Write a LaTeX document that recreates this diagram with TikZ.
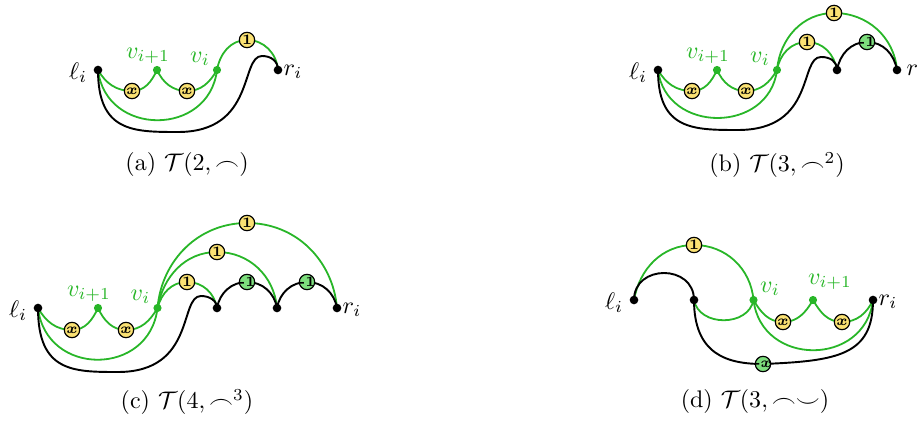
\documentclass[tikz,border=0pt]{standalone}
\usepackage{bm}
\usetikzlibrary{backgrounds}
\definecolor{lgreen}{RGB}{40,182,40}
\definecolor{byellow}{RGB}{250,225,115}
\definecolor{bgreen}{RGB}{125,222,125}
\tikzset{
  dot/.style={circle, fill=black, inner sep=0pt, minimum size=3.6pt},
  gdot/.style={dot, fill=lgreen, minimum size=3.4pt},
  badge/.style={circle, draw=black, line width=0.5pt, fill=byellow, inner sep=0pt, minimum size=6.4pt, font=\fontsize{6}{6}\selectfont\bfseries},
  nbadge/.style={badge, fill=bgreen, inner sep=-1.6pt},
  gline/.style={draw=lgreen, line width=0.75pt},
  bline/.style={draw=black, line width=0.8pt},
  lab/.style={inner sep=0pt},
  glab/.style={lab, text=lgreen},
  captext/.style={inner sep=0pt}
}
\begin{document}
\begin{tikzpicture}[x=0.41667pt, y=0.41667pt]
\useasboundingbox (0,0) rectangle (917,-421);
% ================= (a)
\node[dot]  (al)  at (98,-70) {};
\node[gdot] (av1) at (157,-70) {};
\node[gdot] (av)  at (217,-70) {};
\node[dot]  (ar)  at (278,-70) {};
\node[badge] (ax1) at (132,-91) {$\bm{x}$};
\node[badge] (ax2) at (187,-91) {$\bm{x}$};
\node[badge] (ao)  at (247,-40) {1};
\coordinate (ab) at (178,-132);
\coordinate (ap) at (262,-56);
\node[lab]  at (78,-72.5) {$\ell_i$};
\node[glab] at (148,-56) {$v_{i+1}$};
\node[glab] at (200,-59) {$v_i$};
\node[lab]  at (293,-72) {$r_i$};
\node[captext]  at (187,-165) {(a) $\mathcal{T}(2,\frown)$};
\begin{scope}[on background layer]
\draw[gline] (al.center) to[out=-60,in=180] (ax1.center) to[out=0,in=-115] (av1.center);
\draw[gline] (av1.center) to[out=-65,in=180] (ax2.center) to[out=0,in=-120] (av.center);
\draw[gline] (al.center) .. controls +(8,-67) and +(-8,-67) .. (av.center);
\draw[gline] (av.center) to[out=80,in=180] (ao.center) to[out=0,in=95] (ar.center);
\draw[bline] (al.center) .. controls +(0,-62) and +(-45,0) .. (ab) .. controls +(78,0) and +(-22,0) .. (ap) .. controls +(9,0) and +(0,9) .. (ar.center);
\end{scope}
% ================= (b)
\node[dot]  (bl)  at (658,-70) {};
\node[gdot] (bv1) at (717,-70) {};
\node[gdot] (bv)  at (777,-70) {};
\node[dot]  (bm)  at (837,-70) {};
\node[dot]  (br)  at (897,-70) {};
\node[badge] (bx1) at (692,-91) {$\bm{x}$};
\node[badge] (bx2) at (746,-91) {$\bm{x}$};
\node[badge] (bo1) at (807,-42) {1};
\node[badge] (bo2) at (834,-13) {1};
\node[nbadge] (bn) at (867,-42) {-1};
\coordinate (bb) at (738,-130);
\coordinate (bp) at (821,-57);
\node[lab]  at (638,-72.5) {$\ell_i$};
\node[glab] at (708,-56) {$v_{i+1}$};
\node[glab] at (760,-59) {$v_i$};
\node[lab]  at (916,-72) {$r_i$};
\node[captext]  at (777,-165) {(b) $\mathcal{T}(3,\frown^2)$};
\begin{scope}[on background layer]
\draw[gline] (bl.center) to[out=-60,in=180] (bx1.center) to[out=0,in=-115] (bv1.center);
\draw[gline] (bv1.center) to[out=-65,in=180] (bx2.center) to[out=0,in=-120] (bv.center);
\draw[gline] (bl.center) .. controls +(8,-64) and +(-8,-64) .. (bv.center);
\draw[gline] (bv.center) to[out=80,in=180] (bo1.center) to[out=0,in=100] (bm.center);
\draw[gline] (bv.center) to[out=85,in=180] (bo2.center) to[out=0,in=95] (br.center);
\draw[bline] (bm.center) to[out=80,in=180] (bn.center) to[out=0,in=100] (br.center);
\draw[bline] (bl.center) .. controls +(0,-60) and +(-45,0) .. (bb) .. controls +(78,0) and +(-22,0) .. (bp) .. controls +(9,0) and +(0,9) .. (bm.center);
\end{scope}
% ================= (c)
\node[dot]  (cl)  at (38,-308) {};
\node[gdot] (cv1) at (98,-308) {};
\node[gdot] (cv)  at (157.5,-308) {};
\node[dot]  (cd1) at (217,-308) {};
\node[dot]  (cd2) at (277,-308) {};
\node[dot]  (cr)  at (337,-308) {};
\node[badge] (cx1) at (72,-330) {$\bm{x}$};
\node[badge] (cx2) at (126,-330) {$\bm{x}$};
\node[badge] (co1) at (187,-282) {1};
\node[badge] (co2) at (217,-252) {1};
\node[badge] (co3) at (247,-223) {1};
\node[nbadge] (cn1) at (247,-282) {-1};
\node[nbadge] (cn2) at (307,-282) {-1};
\coordinate (cb) at (118,-372);
\coordinate (cp) at (201,-296);
\node[lab]  at (18,-310.5) {$\ell_i$};
\node[glab] at (89,-294) {$v_{i+1}$};
\node[glab] at (140.5,-297) {$v_i$};
\node[lab]  at (352,-310) {$r_i$};
\node[captext]  at (187,-402) {(c) $\mathcal{T}(4,\frown^3)$};
\begin{scope}[on background layer]
\draw[gline] (cl.center) to[out=-60,in=180] (cx1.center) to[out=0,in=-115] (cv1.center);
\draw[gline] (cv1.center) to[out=-65,in=180] (cx2.center) to[out=0,in=-120] (cv.center);
\draw[gline] (cl.center) .. controls +(8,-69) and +(-8,-69) .. (cv.center);
\draw[gline] (cv.center) to[out=75,in=180] (co1.center) to[out=0,in=100] (cd1.center);
\draw[gline] (cv.center) to[out=80,in=180] (co2.center) to[out=0,in=95] (cd2.center);
\draw[gline] (cv.center) to[out=85,in=180] (co3.center) to[out=0,in=95] (cr.center);
\draw[bline] (cd1.center) to[out=80,in=180] (cn1.center) to[out=0,in=100] (cd2.center);
\draw[bline] (cd2.center) to[out=80,in=180] (cn2.center) to[out=0,in=100] (cr.center);
\draw[bline] (cl.center) .. controls +(0,-64) and +(-45,0) .. (cb) .. controls +(78,0) and +(-22,0) .. (cp) .. controls +(9,0) and +(0,7) .. (cd1.center);
\end{scope}
% ================= (d)
\node[dot]  (dl)  at (634,-300) {};
\node[dot]  (dd)  at (694,-300) {};
\node[gdot] (dv)  at (753.5,-300) {};
\node[gdot] (dv1) at (813,-300) {};
\node[dot]  (dr)  at (873,-300) {};
\node[badge] (do) at (694,-245) {1};
\node[badge] (dx1) at (783,-322) {$\bm{x}$};
\node[badge] (dx2) at (842,-322) {$\bm{x}$};
\node[nbadge] (dn) at (763,-364) {-$\bm{x}$};
\node[lab]  at (614,-302.5) {$\ell_i$};
\node[glab] at (770,-289) {$v_i$};
\node[glab] at (830,-282) {$v_{i+1}$};
\node[lab]  at (888,-302) {$r_i$};
\node[captext]  at (755,-402) {(d) $\mathcal{T}(3,\frown\smile)$};
\begin{scope}[on background layer]
\draw[gline] (dl.center) to[out=80,in=180] (do.center) to[out=0,in=95] (dv.center);
\draw[gline] (dd.center) .. controls +(5,-27) and +(-5,-27) .. (dv.center);
\draw[gline] (dv.center) to[out=-60,in=180] (dx1.center) to[out=0,in=-120] (dv1.center);
\draw[gline] (dv1.center) to[out=-60,in=180] (dx2.center) to[out=0,in=-115] (dr.center);
\draw[gline] (dv.center) .. controls +(8,-67) and +(-8,-67) .. (dr.center);
\draw[bline] (dl.center) .. controls +(0,36) and +(0,36) .. (dd.center);
\draw[bline] (dd.center) .. controls +(0,-55) and +(-35,0) .. (dn.center) .. controls +(75,3) and +(0,-55) .. (dr.center);
\end{scope}
\end{tikzpicture}
\end{document}
